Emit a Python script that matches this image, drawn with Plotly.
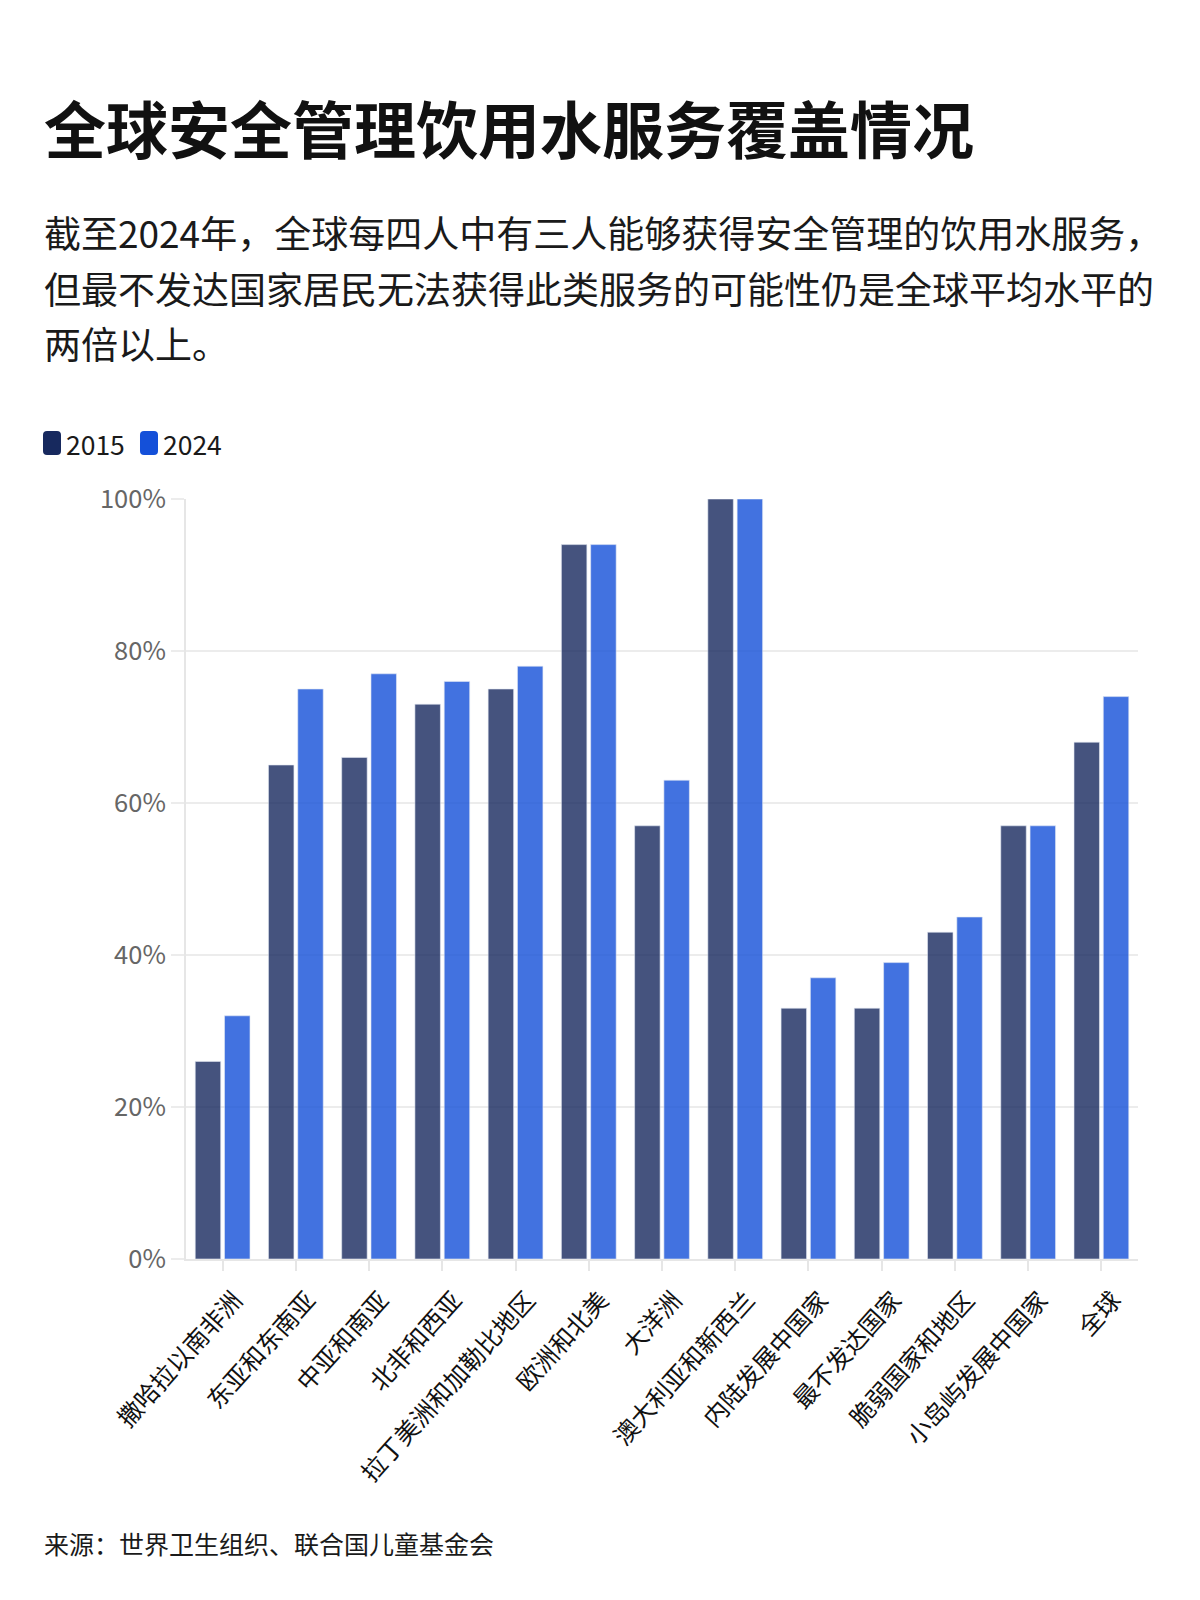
import plotly.graph_objects as go

regions = [
    "撒哈拉以南非洲", "东亚和东南亚", "中亚和南亚", "北非和西亚",
    "拉丁美洲和加勒比地区", "欧洲和北美", "大洋洲", "澳大利亚和新西兰",
    "内陆发展中国家", "最不发达国家", "脆弱国家和地区", "小岛屿发展中国家", "全球",
]
cov_2015 = [26, 65, 66, 73, 75, 94, 57, 100, 33, 33, 43, 57, 68]
cov_2024 = [32, 75, 77, 76, 78, 94, 63, 100, 37, 39, 45, 57, 74]
years = ["2015", "2024"]
year_colors = ["#17295e", "#1450d9"]

title_text = "全球安全管理饮用水服务覆盖情况"
subtitle_lines = [
    "截至2024年，全球每四人中有三人能够获得安全管理的饮用水服务，",
    "但最不发达国家居民无法获得此类服务的可能性仍是全球平均水平的",
    "两倍以上。",
]
source_text = "来源：世界卫生组织、联合国儿童基金会"

FONT = "Noto Sans CJK SC, Noto Sans, sans-serif"
W, H = 1200, 1600
OFF = 8  # the page body adds an 8px margin around the figure

# plot area as measured on the reference page (pixels)
plot_left, plot_right, plot_top, plot_bottom = 186, 1138, 499, 1259
L, T = plot_left - OFF, plot_top - OFF
R, B = W - (plot_right - OFF), H - (plot_bottom - OFF)
pw, ph = W - L - R, H - T - B


def px_x(x):
    return (x - OFF - L) / pw


def px_y(y):
    return (H - B - (y - OFF)) / ph


fig = go.Figure()
for name, vals, col in zip(years, [cov_2015, cov_2024], year_colors):
    fig.add_trace(go.Bar(
        x=regions, y=vals, name=name,
        marker=dict(color=col, opacity=0.8, line=dict(color="#dde4f2", width=0.6)),
        hovertemplate="%{x}<br>" + name + ": %{y}%<extra></extra>",
    ))

annotations = [dict(
    text=f"<b>{title_text}</b>", xref="paper", yref="paper",
    x=px_x(42), y=px_y(127), xanchor="left", yanchor="middle",
    showarrow=False, font=dict(size=62, color="#111111", family=FONT),
)]
for i, line in enumerate(subtitle_lines):
    annotations.append(dict(
        text=line, xref="paper", yref="paper",
        x=px_x(42), y=px_y([232, 288, 343][i]), xanchor="left", yanchor="middle",
        showarrow=False, font=dict(size=37, color="#1a1a1a", family=FONT),
    ))
annotations.append(dict(
    text=source_text, xref="paper", yref="paper",
    x=px_x(42), y=px_y(1543), xanchor="left", yanchor="middle",
    showarrow=False, font=dict(size=25, color="#1a1a1a", family=FONT),
))

# legend drawn by hand: rounded swatches like the reference
shapes = []
for sx, name, col in zip([43, 140], years, year_colors):
    x0, x1, y0, y1, r = sx, sx + 18, 431, 455, 4
    pts = [("M", x0 + r, y0), ("L", x1 - r, y0), ("Q", x1, y0), ("", x1, y0 + r),
           ("L", x1, y1 - r), ("Q", x1, y1), ("", x1 - r, y1), ("L", x0 + r, y1),
           ("Q", x0, y1), ("", x0, y1 - r), ("L", x0, y0 + r), ("Q", x0, y0), ("", x0 + r, y0)]
    path = " ".join(f"{c}{px_x(a):.5f},{px_y(b):.5f}" for c, a, b in pts) + " Z"
    shapes.append(dict(type="path", path=path, xref="paper", yref="paper",
                       fillcolor=col, line=dict(width=0), layer="above"))
    annotations.append(dict(
        text=name, xref="paper", yref="paper",
        x=px_x(sx + 21), y=px_y(443), xanchor="left", yanchor="middle",
        showarrow=False, font=dict(size=26.5, color="#1a1a1a", family=FONT),
    ))

fig.update_layout(
    width=W, height=H,
    margin=dict(l=L, r=R, t=T, b=B),
    paper_bgcolor="white", plot_bgcolor="white",
    font=dict(family=FONT, color="#222222"),
    barmode="group", bargap=0.2, bargroupgap=0.13,
    showlegend=False,
    annotations=annotations,
    shapes=shapes,
)
fig.update_xaxes(
    tickangle=-48, tickfont=dict(size=24.5, color="#111111", family=FONT),
    ticklabelstandoff=5, ticklabelshift=12,
    showline=True, linecolor="#e6e6e6", linewidth=2,
    ticks="outside", tickcolor="#e6e6e6", ticklen=10, tickwidth=2,
    showgrid=False,
)
fig.update_yaxes(
    range=[0, 100], dtick=20, ticksuffix="%",
    tickfont=dict(size=25.5, color="#666666", family=FONT),
    showgrid=True, gridcolor="#ececec", gridwidth=2,
    showline=True, linecolor="#e6e6e6", linewidth=2,
    ticks="outside", tickcolor="#ececec", ticklen=13, tickwidth=2,
    zeroline=False,
)

fig.write_html("out.html")
